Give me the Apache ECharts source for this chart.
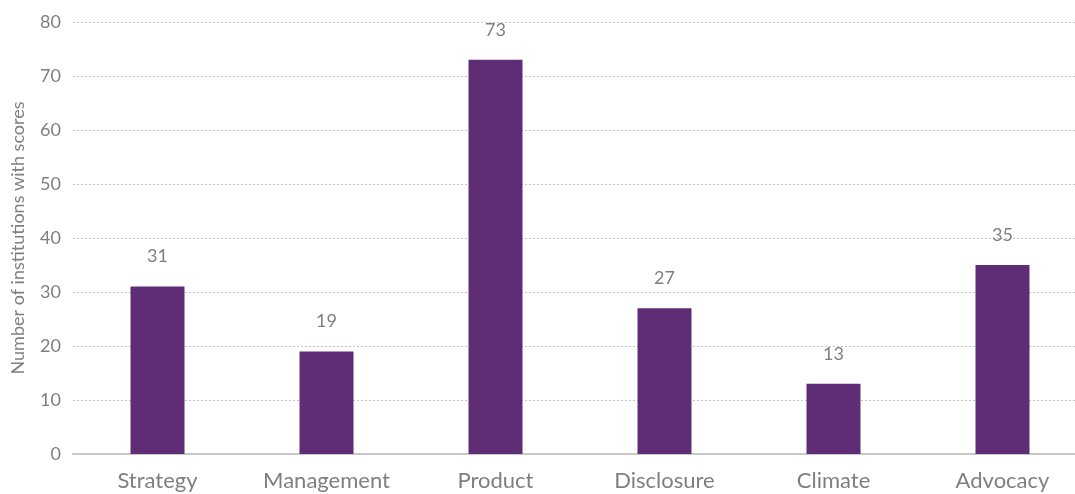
<!DOCTYPE html>
<html>
<head>
<meta charset="utf-8">
<script src="https://cdn.jsdelivr.net/npm/echarts@6/dist/echarts.min.js"></script>
<style>
  html, body { margin: 0; padding: 0; background: #ffffff; overflow: hidden; width: 1075px; height: 494px; }
  /* the plot runs slightly past the right edge of the window */
  #chart { width: 1087px; height: 494px; }
</style>
</head>
<body>
<div id="chart"></div>
<script>
// Score areas and how many institutions scored in each
const categories = ['Strategy', 'Management', 'Product', 'Disclosure', 'Climate', 'Advocacy'];
const institutionCounts = [31, 19, 73, 27, 13, 35];
const yTicks = { min: 0, max: 80, interval: 10 };

const chart = echarts.init(document.getElementById('chart'), null, { renderer: 'canvas' });
const fontFamily = 'Lato, "Noto Sans", sans-serif';

chart.setOption({
  animation: false,
  grid: { left: 73, top: 22, right: 0, bottom: 40, containLabel: false },
  xAxis: {
    type: 'category',
    data: categories,
    axisTick: { show: false },
    axisLine: { lineStyle: { color: '#c8c8c8', width: 2 } },
    axisLabel: { color: '#7f7f7f', fontSize: 22, fontFamily, margin: 16 }
  },
  yAxis: {
    type: 'value',
    min: yTicks.min,
    max: yTicks.max,
    interval: yTicks.interval,
    name: 'Number of institutions with scores',
    nameLocation: 'middle',
    nameGap: 46,
    nameTextStyle: { color: '#7f7f7f', fontSize: 18, fontFamily },
    axisLine: { show: false },
    axisTick: { show: false },
    axisLabel: { color: '#7f7f7f', fontSize: 18, fontFamily, margin: 12 },
    splitLine: { lineStyle: { color: '#c4c4c4', type: [2, 2], width: 1 } }
  },
  series: [{
    type: 'bar',
    data: institutionCounts,
    barWidth: 54,
    itemStyle: { color: '#5e2d76' },
    label: {
      show: true,
      position: 'top',
      distance: 21,
      color: '#7f7f7f',
      fontSize: 18,
      fontFamily
    }
  }]
});
</script>
</body>
</html>
